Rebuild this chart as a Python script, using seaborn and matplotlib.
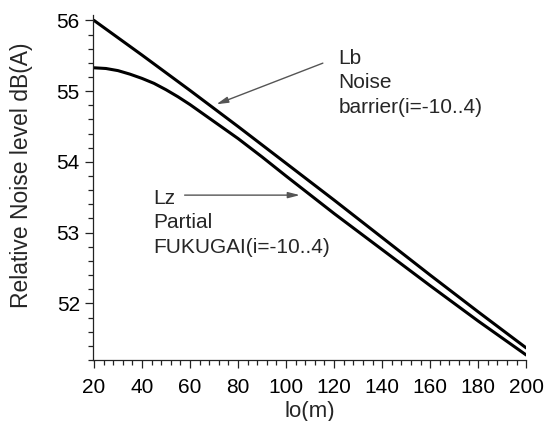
import matplotlib
matplotlib.use("Agg")
import matplotlib.pyplot as plt
import seaborn as sns
import pandas as pd
from matplotlib.ticker import MultipleLocator

lb_lo = [20, 40, 60, 80, 100, 120, 140, 160, 180, 200]
lb_noise_barrier = [56.00, 55.51, 55.01, 54.50, 53.98, 53.46, 52.93, 52.40, 51.88, 51.37]
lz_lo = [20, 25, 30, 35, 40, 45, 50, 55, 60, 65, 70, 80, 90, 100, 120, 140, 160, 180, 200]
lz_partial_fukugai = [55.33, 55.32, 55.29, 55.24, 55.18, 55.11, 55.02, 54.92, 54.81, 54.69, 54.57,
                      54.33, 54.07, 53.80, 53.27, 52.76, 52.25, 51.75, 51.27]

df = pd.DataFrame({
    "lo": lb_lo + lz_lo,
    "level": lb_noise_barrier + lz_partial_fukugai,
    "series": ["Lb"] * len(lb_lo) + ["Lz"] * len(lz_lo),
})

sns.set_style("ticks")
plt.rcParams["font.family"] = ["Liberation Sans", "DejaVu Sans"]

fig = plt.figure(figsize=(5.47, 4.21), dpi=100)
ax = fig.add_axes([0.170, 0.145, 0.792, 0.820])

sns.lineplot(data=df, x="lo", y="level", hue="series", palette={"Lb": "black", "Lz": "black"},
             linewidth=2.2, legend=False, ax=ax)

ax.set_xlim(19.6, 200)
ax.set_ylim(51.2, 56.08)
ax.xaxis.set_major_locator(MultipleLocator(20))
ax.xaxis.set_minor_locator(MultipleLocator(4))
ax.yaxis.set_major_locator(MultipleLocator(1))
ax.yaxis.set_minor_locator(MultipleLocator(0.2))
ax.tick_params(which="major", direction="out", length=6, width=0.9, labelsize=15, colors="#222222", labelcolor="black")
ax.tick_params(axis="x", which="major", pad=7)
ax.tick_params(which="minor", direction="out", length=3.5, width=0.9, colors="#222222")
for s in ["top", "right"]:
    ax.spines[s].set_visible(False)
for s in ["left", "bottom"]:
    ax.spines[s].set_linewidth(0.9)
    ax.spines[s].set_color("#222222")

ax.set_xlabel("lo(m)", fontsize=16, labelpad=3)
ax.set_ylabel("Relative Noise level dB(A)", fontsize=16.5)
ax.yaxis.set_label_coords(-0.139, 0.535)

arrow = dict(arrowstyle="-|>,head_length=0.7,head_width=0.18", color="#555555", lw=1.0)
ax.annotate("", xy=(69.9, 54.80), xytext=(116.4, 55.41), arrowprops=arrow)
ax.text(121.8, 55.12, "Lb\nNoise\nbarrier(i=-10..4)", fontsize=15, va="center", ha="left", linespacing=1.37)

ax.annotate("", xy=(106.9, 53.53), xytext=(56.6, 53.53), arrowprops=arrow)
ax.text(44.9, 53.14, "Lz\nPartial\nFUKUGAI(i=-10..4)", fontsize=15, va="center", ha="left", linespacing=1.37)

fig.savefig("out.png", dpi=100)
